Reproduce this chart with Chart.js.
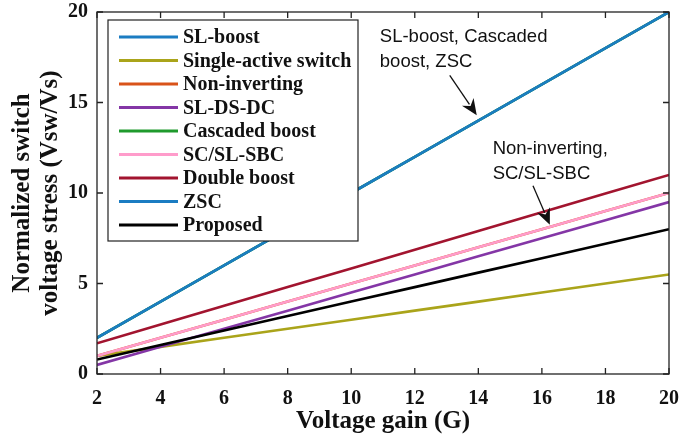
<!DOCTYPE html>
<html>
<head>
<meta charset="utf-8">
<script src="https://cdn.jsdelivr.net/npm/chart.js@4.4.0/dist/chart.umd.min.js"></script>
<style>
  html, body { margin: 0; padding: 0; background: #fff; }
  #wrap { width: 685px; height: 442px; }
</style>
</head>
<body>
<div id="wrap"><canvas id="stressChart"></canvas></div>
<script>
// data
const gain = [2, 4, 6, 8, 10, 12, 14, 16, 18, 20];
const slBoost = [2, 4, 6, 8, 10, 12, 14, 16, 18, 20];
const singleActive = [1, 1.5, 2, 2.5, 3, 3.5, 4, 4.5, 5, 5.5];
const nonInverting = [1, 2, 3, 4, 5, 6, 7, 8, 9, 10];
const slDsDc = [0.5, 1.5, 2.5, 3.5, 4.5, 5.5, 6.5, 7.5, 8.5, 9.5];
const cascadedBoost = [2, 4, 6, 8, 10, 12, 14, 16, 18, 20];
const scSlSbc = [1, 2, 3, 4, 5, 6, 7, 8, 9, 10];
const doubleBoost = [1.7, 2.73, 3.77, 4.8, 5.83, 6.87, 7.9, 8.93, 9.97, 11];
const zsc = [2, 4, 6, 8, 10, 12, 14, 16, 18, 20];
const proposed = [0.8, 1.6, 2.4, 3.2, 4, 4.8, 5.6, 6.4, 7.2, 8];

const xTicks = [2, 4, 6, 8, 10, 12, 14, 16, 18, 20];
const yTicks = [0, 5, 10, 15, 20];

const seriesNames = ['SL-boost', 'Single-active switch', 'Non-inverting', 'SL-DS-DC',
  'Cascaded boost', 'SC/SL-SBC', 'Double boost', 'ZSC', 'Proposed'];
const seriesValues = [slBoost, singleActive, nonInverting, slDsDc,
  cascadedBoost, scSlSbc, doubleBoost, zsc, proposed];
const seriesColors = ['#1b7cc2', '#aaa41a', '#d95319', '#8436a6',
  '#1f9a2c', '#ff9ccb', '#a2142f', '#1b7cc2', '#000000'];

// annotation texts with arrows (data coords)
const notes = [
  { lines: ['SL-boost, Cascaded', 'boost, ZSC'], x: 10.9, y: 18.6, from: [13.1, 16.5], to: [13.95, 14.3] },
  { lines: ['Non-inverting,', 'SC/SL-SBC'], x: 14.45, y: 12.45, from: [15.72, 10.4], to: [16.25, 8.25] }
];

const serif = "'Liberation Serif', 'Times New Roman', serif";
const sans = "'Liberation Sans', Arial, sans-serif";

const datasets = seriesNames.map((name, i) => ({
  label: name,
  data: seriesValues[i].map((v, k) => ({ x: gain[k], y: v })),
  borderColor: seriesColors[i],
  backgroundColor: seriesColors[i],
  borderWidth: 2.6,
  pointRadius: 0,
  fill: false,
  order: 20 - i // later series on top, as in the original
}));

function arrow(ctx, x1, y1, x2, y2) {
  const ang = Math.atan2(y2 - y1, x2 - x1);
  const len = 16, half = 7;
  const bx = x2 - len * Math.cos(ang), by = y2 - len * Math.sin(ang);
  ctx.beginPath();
  ctx.moveTo(x1, y1);
  ctx.lineTo(bx + 3 * Math.cos(ang), by + 3 * Math.sin(ang));
  ctx.stroke();
  ctx.beginPath();
  ctx.moveTo(x2, y2);
  ctx.lineTo(bx + half * Math.sin(ang), by - half * Math.cos(ang));
  ctx.lineTo(bx + 5 * Math.cos(ang), by + 5 * Math.sin(ang));
  ctx.lineTo(bx - half * Math.sin(ang), by + half * Math.cos(ang));
  ctx.closePath();
  ctx.fill();
}

const framePlugin = {
  id: 'frame',
  afterDatasetsDraw(chart) {
    const { ctx, chartArea: a, scales } = chart;
    const xs = scales.x, ys = scales.y;
    ctx.save();

    // annotations
    ctx.fillStyle = '#111';
    ctx.strokeStyle = '#111';
    ctx.lineWidth = 1.3;
    ctx.font = '18.5px ' + sans;
    ctx.textBaseline = 'middle';
    notes.forEach(n => {
      const tx = xs.getPixelForValue(n.x), ty = ys.getPixelForValue(n.y);
      n.lines.forEach((t, i) => ctx.fillText(t, tx, ty + i * 25));
      arrow(ctx, xs.getPixelForValue(n.from[0]), ys.getPixelForValue(n.from[1]),
        xs.getPixelForValue(n.to[0]), ys.getPixelForValue(n.to[1]));
    });

    // box and inward ticks on all four sides
    ctx.strokeStyle = '#222';
    ctx.lineWidth = 1.3;
    ctx.strokeRect(a.left, a.top, a.right - a.left, a.bottom - a.top);
    const tl = 6;
    ctx.beginPath();
    xTicks.forEach(v => {
      const px = xs.getPixelForValue(v);
      ctx.moveTo(px, a.bottom); ctx.lineTo(px, a.bottom - tl);
      ctx.moveTo(px, a.top); ctx.lineTo(px, a.top + tl);
    });
    yTicks.forEach(v => {
      const py = ys.getPixelForValue(v);
      ctx.moveTo(a.left, py); ctx.lineTo(a.left + tl, py);
      ctx.moveTo(a.right, py); ctx.lineTo(a.right - tl, py);
    });
    ctx.stroke();

    // legend box
    const lx = a.left + 11, ly = a.top + 8, lw = 250, lh = 221;
    ctx.fillStyle = '#fff';
    ctx.fillRect(lx, ly, lw, lh);
    ctx.strokeStyle = '#222';
    ctx.lineWidth = 1.2;
    ctx.strokeRect(lx, ly, lw, lh);
    ctx.font = 'bold 20px ' + serif;
    ctx.textBaseline = 'middle';
    chart.data.datasets.forEach((ds, i) => {
      const cy = ly + 17 + i * 23.5;
      ctx.strokeStyle = ds.borderColor;
      ctx.lineWidth = 3;
      ctx.beginPath();
      ctx.moveTo(lx + 11, cy);
      ctx.lineTo(lx + 70, cy);
      ctx.stroke();
      ctx.fillStyle = '#111';
      ctx.fillText(ds.label, lx + 75, cy + 1);
    });
    ctx.restore();
  }
};

new Chart(document.getElementById('stressChart'), {
  type: 'line',
  data: { datasets },
  options: {
    responsive: true,
    maintainAspectRatio: false,
    animation: false,
    layout: { padding: { left: 0, right: 16, top: 12, bottom: 0 } },
    plugins: { legend: { display: false }, tooltip: { enabled: false } },
    scales: {
      x: {
        type: 'linear',
        min: 2, max: 20,
        afterBuildTicks: s => { s.ticks = xTicks.map(v => ({ value: v })); },
        afterFit: s => { s.height = 68; s.paddingLeft = 0; s.paddingRight = 0; },
        grid: { display: false, drawTicks: false },
        border: { display: false },
        ticks: { color: '#111', padding: 13, maxRotation: 0, font: { family: serif, size: 20, weight: 'bold' } },
        title: {
          display: true, text: 'Voltage gain (G)', color: '#111', padding: { top: 0, bottom: 5 },
          font: { family: serif, size: 25, weight: 'bold' }
        }
      },
      y: {
        min: 0, max: 20,
        afterBuildTicks: s => { s.ticks = yTicks.map(v => ({ value: v })); },
        afterFit: s => { s.width = 97; s.paddingTop = 0; s.paddingBottom = 0; },
        grid: { display: false, drawTicks: false },
        border: { display: false },
        ticks: { color: '#111', padding: 9, font: { family: serif, size: 20, weight: 'bold' } },
        title: {
          display: true, text: ['Normalized switch', 'voltage stress (Vsw/Vs)'], color: '#111',
          padding: { top: 9, bottom: 0 },
          font: { family: serif, size: 25, weight: 'bold', lineHeight: 1.1 }
        }
      }
    }
  },
  plugins: [framePlugin]
});
</script>
</body>
</html>
